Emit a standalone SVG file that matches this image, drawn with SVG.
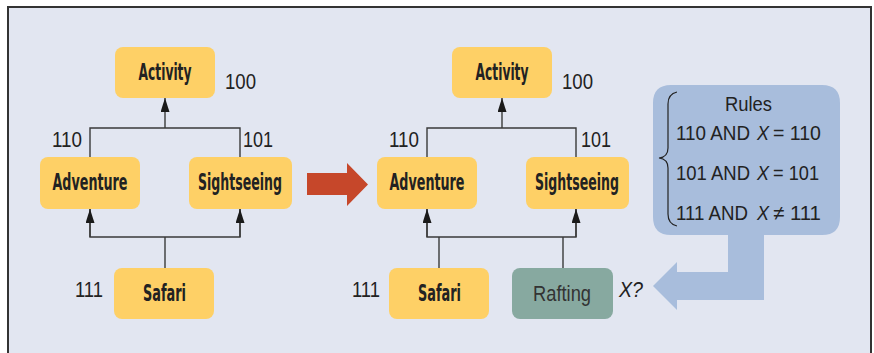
<svg xmlns="http://www.w3.org/2000/svg" width="874" height="353" viewBox="0 0 874 353">
<defs>
<style>
.node{fill:#FED066;}
.raft{fill:#87A9A0;}
.lbl{font-family:"DejaVu Sans Condensed","Liberation Sans Narrow","Liberation Sans",sans-serif;font-weight:bold;font-size:23px;fill:#222;}
.rlbl{font-family:"Liberation Sans",Arial,sans-serif;font-size:22px;fill:#333;}
.num{font-family:"Liberation Sans",Arial,sans-serif;font-size:22px;fill:#222;}
.rule{font-family:"Liberation Sans",Arial,sans-serif;font-size:20.5px;fill:#222;}
.it{font-style:italic;}
.conn{fill:none;stroke:#3a3a3a;stroke-width:1.4;}
</style>
<marker id="ah" markerUnits="userSpaceOnUse" markerWidth="16" markerHeight="10" refX="14" refY="4.5" orient="auto">
<path d="M0,0 L14,4.5 L0,9 Z" fill="#1a1a1a"/>
</marker>
</defs>
<rect x="8" y="7" width="863" height="352" fill="#E2E6F1" stroke="#333" stroke-width="2"/>

<g id="left-graph">
<g id="activity1"><rect class="node" x="115" y="47" width="100" height="51" rx="8"/><text class="lbl" x="165" y="80" text-anchor="middle" textLength="53" lengthAdjust="spacingAndGlyphs">Activity</text></g>
<g id="adventure1"><rect class="node" x="40" y="157" width="100" height="52" rx="8"/><text class="lbl" x="90" y="190" text-anchor="middle" textLength="75" lengthAdjust="spacingAndGlyphs">Adventure</text></g>
<g id="sightseeing1"><rect class="node" x="189" y="157" width="103" height="52" rx="8"/><text class="lbl" x="240" y="190" text-anchor="middle" textLength="84" lengthAdjust="spacingAndGlyphs">Sightseeing</text></g>
<g id="safari1"><rect class="node" x="114" y="268" width="100" height="51" rx="8"/><text class="lbl" x="164.5" y="301" text-anchor="middle" textLength="43" lengthAdjust="spacingAndGlyphs">Safari</text></g>
<text class="num" x="225" y="89" textLength="31" lengthAdjust="spacingAndGlyphs">100</text>
<text class="num" x="52" y="147" textLength="30" lengthAdjust="spacingAndGlyphs">110</text>
<text class="num" x="243" y="147" textLength="30" lengthAdjust="spacingAndGlyphs">101</text>
<text class="num" x="75" y="297" textLength="28" lengthAdjust="spacingAndGlyphs">111</text>
</g>

<g id="right-graph">
<g id="activity2"><rect class="node" x="452" y="47" width="100" height="51" rx="8"/><text class="lbl" x="502" y="80" text-anchor="middle" textLength="53" lengthAdjust="spacingAndGlyphs">Activity</text></g>
<g id="adventure2"><rect class="node" x="377" y="157" width="100" height="52" rx="8"/><text class="lbl" x="427" y="190" text-anchor="middle" textLength="75" lengthAdjust="spacingAndGlyphs">Adventure</text></g>
<g id="sightseeing2"><rect class="node" x="526" y="157" width="103" height="52" rx="8"/><text class="lbl" x="577" y="190" text-anchor="middle" textLength="84" lengthAdjust="spacingAndGlyphs">Sightseeing</text></g>
<g id="safari2"><rect class="node" x="389" y="268" width="100" height="51" rx="8"/><text class="lbl" x="439.5" y="301" text-anchor="middle" textLength="43" lengthAdjust="spacingAndGlyphs">Safari</text></g>
<g id="rafting"><rect class="raft" x="512" y="268" width="101" height="51" rx="8"/><text class="rlbl" x="562" y="301" text-anchor="middle" textLength="58" lengthAdjust="spacingAndGlyphs">Rafting</text></g>
<text class="num" x="562" y="89" textLength="31" lengthAdjust="spacingAndGlyphs">100</text>
<text class="num" x="389" y="147" textLength="30" lengthAdjust="spacingAndGlyphs">110</text>
<text class="num" x="581" y="147" textLength="30" lengthAdjust="spacingAndGlyphs">101</text>
<text class="num" x="352" y="297" textLength="28" lengthAdjust="spacingAndGlyphs">111</text>
<text class="num it" x="619" y="297" textLength="24" lengthAdjust="spacingAndGlyphs">X?</text>
</g>

<g id="connectors">
<polyline class="conn" points="90,157 90,128 240,128 240,157"/>
<line class="conn" x1="165" y1="128" x2="165" y2="98" marker-end="url(#ah)"/>
<polyline class="conn" points="90,209 90,237 240,237 240,209"/>
<line class="conn" x1="90" y1="237" x2="90" y2="209" marker-end="url(#ah)"/>
<line class="conn" x1="240" y1="237" x2="240" y2="209" marker-end="url(#ah)"/>
<line class="conn" x1="165" y1="268" x2="165" y2="237"/>

<polyline class="conn" points="427,157 427,128 576,128 576,157"/>
<line class="conn" x1="502" y1="128" x2="502" y2="98" marker-end="url(#ah)"/>
<polyline class="conn" points="427,209 427,237 576,237 576,209"/>
<line class="conn" x1="427" y1="237" x2="427" y2="209" marker-end="url(#ah)"/>
<line class="conn" x1="576" y1="237" x2="576" y2="209" marker-end="url(#ah)"/>
<line class="conn" x1="439" y1="268" x2="439" y2="237"/>
<line class="conn" x1="563" y1="268" x2="563" y2="237"/>
</g>

<g id="transition-arrow">
<path d="M307,173 L347,173 L347,163 L368,184.5 L347,206 L347,195 L307,195 Z" fill="#C6472A"/>
</g>

<g id="rules">
<path d="M671,85 L822,85 Q840,85 840,103 L840,217 Q840,235 822,235 L764,235 L764,300 L677,300 L677,310 L653,286 L677,262 L677,272 L728,272 L728,235 L671,235 Q653,235 653,217 L653,103 Q653,85 671,85 Z" fill="#A8BDDC"/>
<path d="M677,92 Q668,94 668,104 L668,148 Q668,157 659,158 Q668,159 668,168 L668,214 Q668,224 677,226" fill="none" stroke="#222" stroke-width="1.2"/>
<text class="rule" x="748.5" y="111" text-anchor="middle" textLength="47" lengthAdjust="spacingAndGlyphs">Rules</text>
<text class="rule" x="676" y="140" textLength="74" lengthAdjust="spacingAndGlyphs">110 AND</text>
<text class="rule it" x="757" y="140" textLength="12" lengthAdjust="spacingAndGlyphs">X</text>
<text class="rule" x="773" y="140" textLength="48" lengthAdjust="spacingAndGlyphs">= 110</text>
<text class="rule" x="676" y="180" textLength="74" lengthAdjust="spacingAndGlyphs">101 AND</text>
<text class="rule it" x="757" y="180" textLength="12" lengthAdjust="spacingAndGlyphs">X</text>
<text class="rule" x="773" y="180" textLength="46" lengthAdjust="spacingAndGlyphs">= 101</text>
<text class="rule" x="676" y="220" textLength="72" lengthAdjust="spacingAndGlyphs">111 AND</text>
<text class="rule it" x="757" y="220" textLength="12" lengthAdjust="spacingAndGlyphs">X</text>
<text class="rule" x="773" y="220" textLength="48" lengthAdjust="spacingAndGlyphs">≠ 111</text>
</g>
</svg>
